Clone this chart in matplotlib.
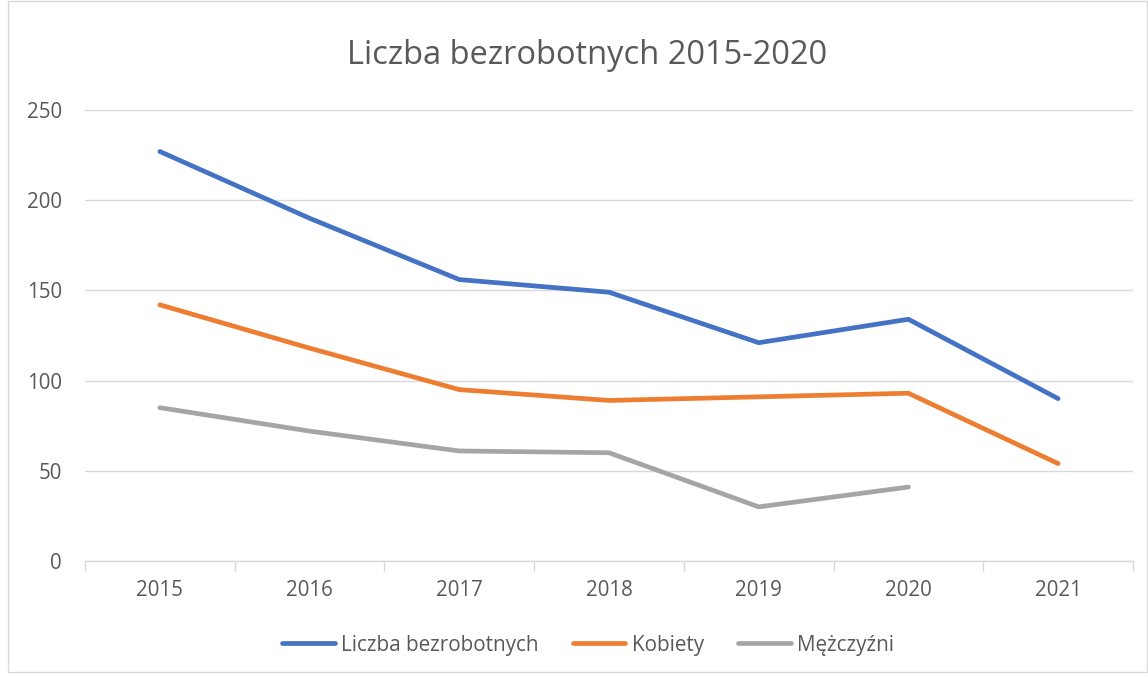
import matplotlib
matplotlib.use("Agg")
import matplotlib.pyplot as plt
import numpy as np

years = ["2015", "2016", "2017", "2018", "2019", "2020", "2021"]
liczba = [227, 190, 156, 149, 121, 134, 90]
kobiety = [142, 118, 95, 89, 91, 93, 54]
mezczyzni = [85, 72, 61, 60, 30, 41, None]

plt.rcParams['font.family'] = ['Open Sans', 'DejaVu Sans']

fig = plt.figure(figsize=(11.48, 6.77), dpi=100)
ax = fig.add_axes([85/1148, 1-561/677, (1133-85)/1148, (561-110)/677])

x = np.arange(len(years))
kw = dict(lw=3.4, solid_capstyle='round', solid_joinstyle='round')
ax.plot(x, liczba, color='#4472C4', label='Liczba bezrobotnych', **kw)
ax.plot(x, kobiety, color='#ED7D31', label='Kobiety', **kw)
m = np.array([np.nan if v is None else v for v in mezczyzni], dtype=float)
ax.plot(x, m, color='#A5A5A5', label='Mężczyźni', **kw)

ax.set_xlim(-0.5, len(years) - 0.5)
ax.set_ylim(0, 250)
ax.set_yticks(range(0, 251, 50))
ax.set_xticks(x)
ax.set_xticklabels(years)
ax.set_xticks(np.arange(-0.5, len(years), 1), minor=True)
ax.tick_params(axis='x', which='major', length=0, pad=14, labelsize=14.8, colors='#595959')
ax.tick_params(axis='x', which='minor', length=7, color='#D9D9D9', width=1)
ax.tick_params(axis='y', length=0, pad=16.5, labelsize=14.8, colors='#595959')
ax.grid(axis='y', color='#D9D9D9', lw=1)
ax.set_axisbelow(True)
for s in ['top', 'right', 'left']:
    ax.spines[s].set_visible(False)
ax.spines['bottom'].set_color('#D9D9D9')
ax.spines['bottom'].set_linewidth(1)

fig.text(587/1148, 1-56/677, 'Liczba bezrobotnych 2015-2020', ha='center', va='center', fontsize=23.5, color='#595959')

leg = ax.legend(loc='center', bbox_to_anchor=(588/1148, 1-645/677), bbox_transform=fig.transFigure,
                ncol=3, frameon=False, fontsize=14.9, handlelength=2.55, columnspacing=1.65, handletextpad=0.3)
for t in leg.get_texts():
    t.set_color('#595959')

fig.patches.append(plt.Rectangle((8/1148, 5/677), 1-9/1148, 1-6/677, transform=fig.transFigure,
                                 fill=False, edgecolor='#D9D9D9', lw=1))

fig.savefig('out.png', dpi=100)
